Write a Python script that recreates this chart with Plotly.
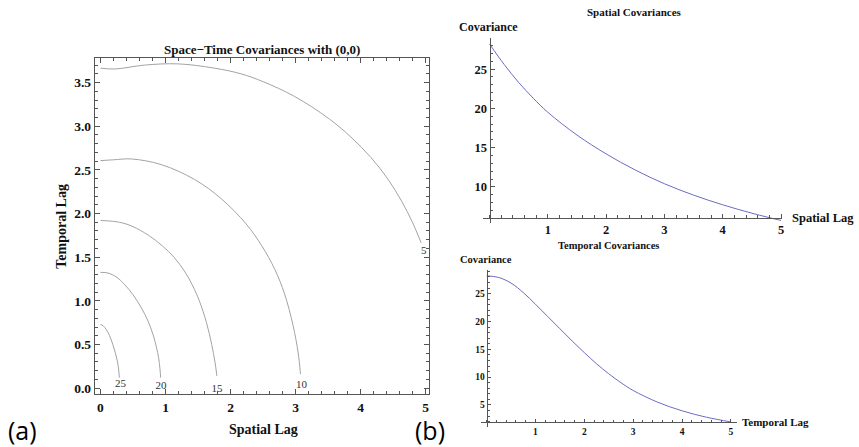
import plotly.graph_objects as go

W, H = 859, 447

# ---------------- data ----------------
# Contour lines of the space-time covariance (Spatial lag h, Temporal lag u)
c25_h = [0, 0.04, 0.09, 0.14, 0.19, 0.23, 0.26, 0.28, 0.29]
c25_u = [0.728, 0.715, 0.67, 0.60, 0.50, 0.40, 0.31, 0.21, 0.12]

c20_h = [0, 0.117, 0.25, 0.373, 0.5, 0.63, 0.73, 0.81, 0.86, 0.894, 0.915, 0.925]
c20_u = [1.326, 1.318, 1.27, 1.185, 1.07, 0.918, 0.77, 0.61, 0.47, 0.347, 0.22, 0.12]

c15_h = [0, 0.2, 0.35, 0.5, 0.74, 0.95, 1.13, 1.30, 1.42, 1.52, 1.63, 1.71, 1.76, 1.79]
c15_u = [1.92, 1.91, 1.89, 1.85, 1.75, 1.63, 1.5, 1.33, 1.17, 1.0, 0.75, 0.5, 0.3, 0.14]

c10_h = [0, 0.2, 0.475, 0.935, 1.446, 1.856, 2.24, 2.48, 2.68, 2.83, 2.96, 3.04, 3.075]
c10_u = [2.606, 2.615, 2.625, 2.56, 2.39, 2.17, 1.88, 1.63, 1.36, 1.08, 0.72, 0.40, 0.16]

c5_h = [0, 0.22, 0.68, 1.19, 1.75, 2.16, 2.5, 2.985, 3.50, 3.85, 4.16, 4.42, 4.63, 4.79, 4.93]
c5_u = [3.665, 3.655, 3.70, 3.714, 3.665, 3.6, 3.51, 3.34, 3.093, 2.876, 2.64, 2.393, 2.141, 1.909, 1.664]

levels = ["25", "20", "15", "10", "5"]
label_h = [0.31, 0.93, 1.79, 3.09, 4.97]
label_u = [0.04, 0.025, -0.01, 0.03, 1.57]

# Spatial covariance C(h, 0)
sp_h = [0, 0.25, 0.5, 0.75, 1, 1.5, 2, 2.5, 3, 3.5, 4, 4.5, 5]
sp_c = [28.2, 25.6, 23.3, 21.3, 19.5, 16.6, 14.2, 12.15, 10.4, 8.95, 7.72, 6.65, 5.72]

# Temporal covariance C(0, u)
tp_u = [0, 0.25, 0.5, 0.75, 1, 1.25, 1.5, 1.75, 2, 2.25, 2.5, 2.75, 3, 3.5, 4, 4.5, 5]
tp_c = [28.2, 27.9, 26.9, 25.2, 23.1, 20.9, 18.7, 16.5, 14.4, 12.4, 10.6, 9.0, 7.6, 5.5, 3.95, 2.8, 1.95]

left_xticks = [0, 1, 2, 3, 4, 5]
left_yticks = [0, 0.5, 1.0, 1.5, 2.0, 2.5, 3.0, 3.5]
sp_xticks = [1, 2, 3, 4, 5]
sp_yticks = [10, 15, 20, 25]
tp_xticks = [1, 2, 3, 4, 5]
tp_yticks = [5, 10, 15, 20, 25]

# ---------------- styling ----------------
SERIF = "Liberation Serif"
AX = "#555555"
CONT = "#a3a3a3"
CURVE = "#6b6bc6"


def px(x):
    return x / W


def py(y):
    return 1 - y / H


fig = go.Figure()

contours = [(c25_h, c25_u), (c20_h, c20_u), (c15_h, c15_u), (c10_h, c10_u), (c5_h, c5_u)]
for (hh, uu), lv in zip(contours, levels):
    fig.add_trace(go.Scatter(x=hh, y=uu, mode="lines", line=dict(color=CONT, width=1, shape="spline"),
                             xaxis="x", yaxis="y", showlegend=False, hoverinfo="skip", name=lv))

fig.add_trace(go.Scatter(x=label_h, y=label_u, mode="text", text=levels,
                         textfont=dict(family=SERIF, size=11, color="#333333"),
                         cliponaxis=False, xaxis="x", yaxis="y", showlegend=False, hoverinfo="skip"))

fig.add_trace(go.Scatter(x=sp_h, y=sp_c, mode="lines", line=dict(color=CURVE, width=1, shape="spline"),
                         xaxis="x2", yaxis="y2", showlegend=False, hoverinfo="skip"))

fig.add_trace(go.Scatter(x=tp_u, y=tp_c, mode="lines", line=dict(color=CURVE, width=1, shape="spline"),
                         xaxis="x3", yaxis="y3", showlegend=False, hoverinfo="skip"))


def tfont(size):
    return dict(family=SERIF, size=size, color="#111111", weight="bold")


common = dict(showgrid=False, zeroline=False, showline=True, linecolor=AX, linewidth=1,
              ticks="inside", tickcolor=AX, tickwidth=1)

# pixel geometry of the right-hand panels (axes cross at the origin)
sp_x0, sp_px_per = 490.7, 58.43
sp_xaxis_y, sp_y_top, sp_y_bot = 218.3, 38.3, 223.5
sp_per = 7.867
sp_axis_val = 6.06

tp_x0, tp_px_per = 487.7, 49.0
tp_xaxis_y, tp_y_top, tp_y_bot = 423.3, 270.7, 428.3
tp_per = 5.58
tp_axis_val = 1.88

fig.update_layout(
    width=W, height=H, autosize=False,
    margin=dict(l=0, r=0, t=0, b=0),
    paper_bgcolor="white", plot_bgcolor="white",
    xaxis=dict(domain=[px(95), px(430)], range=[-0.0874, 5.0506], anchor="y",
               tickmode="array", tickvals=left_xticks, ticktext=[str(v) for v in left_xticks],
               ticklen=5, mirror="ticks", tickfont=tfont(13.5),
               minor=dict(tickmode="linear", tick0=0, dtick=0.2, ticks="inside", ticklen=3, tickcolor=AX),
               **common),
    yaxis=dict(domain=[py(395.3), py(57.7)], range=[-0.072, 3.786], anchor="x",
               tickmode="array", tickvals=left_yticks, ticktext=["%.1f" % v for v in left_yticks],
               ticklen=5, mirror="ticks", tickfont=tfont(13.5),
               minor=dict(tickmode="linear", tick0=0, dtick=0.1, ticks="inside", ticklen=3, tickcolor=AX),
               **common),
    xaxis2=dict(domain=[px(484), px(784)],
                range=[(484 - sp_x0) / sp_px_per, (784 - sp_x0) / sp_px_per],
                anchor="free", position=py(sp_xaxis_y),
                tickmode="array", tickvals=sp_xticks, ticktext=[str(v) for v in sp_xticks],
                ticklen=4, tickfont=tfont(12.5),
                minor=dict(tickmode="linear", tick0=0, dtick=0.2, ticks="inside", ticklen=2.5, tickcolor=AX),
                **common),
    yaxis2=dict(domain=[py(sp_y_bot), py(sp_y_top)],
                range=[sp_axis_val - (sp_y_bot - sp_xaxis_y) / sp_per,
                       sp_axis_val + (sp_xaxis_y - sp_y_top) / sp_per],
                anchor="free", position=px(sp_x0),
                tickmode="array", tickvals=sp_yticks, ticktext=[str(v) for v in sp_yticks],
                ticklen=4, tickfont=tfont(12.5),
                minor=dict(tickmode="array", tickvals=list(range(7, 29)), ticks="inside", ticklen=2.5, tickcolor=AX),
                **common),
    xaxis3=dict(domain=[px(481.7), px(738.3)],
                range=[(481.7 - tp_x0) / tp_px_per, (738.3 - tp_x0) / tp_px_per],
                anchor="free", position=py(tp_xaxis_y),
                tickmode="array", tickvals=tp_xticks, ticktext=[str(v) for v in tp_xticks],
                ticklen=3.5, tickfont=tfont(9.5),
                minor=dict(tickmode="linear", tick0=0, dtick=0.2, ticks="inside", ticklen=2, tickcolor=AX),
                **common),
    yaxis3=dict(domain=[py(tp_y_bot), py(tp_y_top)],
                range=[tp_axis_val - (tp_y_bot - tp_xaxis_y) / tp_per,
                       tp_axis_val + (tp_xaxis_y - tp_y_top) / tp_per],
                anchor="free", position=px(tp_x0),
                tickmode="array", tickvals=tp_yticks, ticktext=[str(v) for v in tp_yticks],
                ticklen=3.5, tickfont=tfont(9.5),
                minor=dict(tickmode="array", tickvals=list(range(2, 30)), ticks="inside", ticklen=2, tickcolor=AX),
                **common),
)


def ann(text, x, y, size, xanchor="center", angle=0, family=SERIF, weight="bold", color="#111111"):
    fig.add_annotation(text=text, x=px(x), y=py(y), xref="paper", yref="paper",
                       xanchor=xanchor, yanchor="middle", showarrow=False, textangle=angle,
                       font=dict(family=family, size=size, color=color, weight=weight))


ann("Space\u2212Time Covariances with (0,0)", 262.5, 50, 13)
ann("Spatial Lag", 264, 430, 14)
ann("Temporal Lag", 61.7, 226.7, 14, angle=-90)
ann("Spatial Covariances", 636, 11.7, 11)
ann("Covariance", 489.5, 27.3, 12)
ann("Spatial Lag", 792, 218.3, 12.5, xanchor="left")
ann("Temporal Covariances", 610, 245.7, 10.5)
ann("Covariance", 486.7, 260, 10.5)
ann("Temporal Lag", 742, 423.3, 11, xanchor="left")
ann("(a)", 23, 431, 25, family="Open Sans", weight="normal", color="#000000")
ann("(b)", 431, 431, 25, family="Open Sans", weight="normal", color="#000000")

fig.write_html("out.html", config={"displayModeBar": False},
               post_script="document.body.style.margin='0';document.body.style.padding='0';")
